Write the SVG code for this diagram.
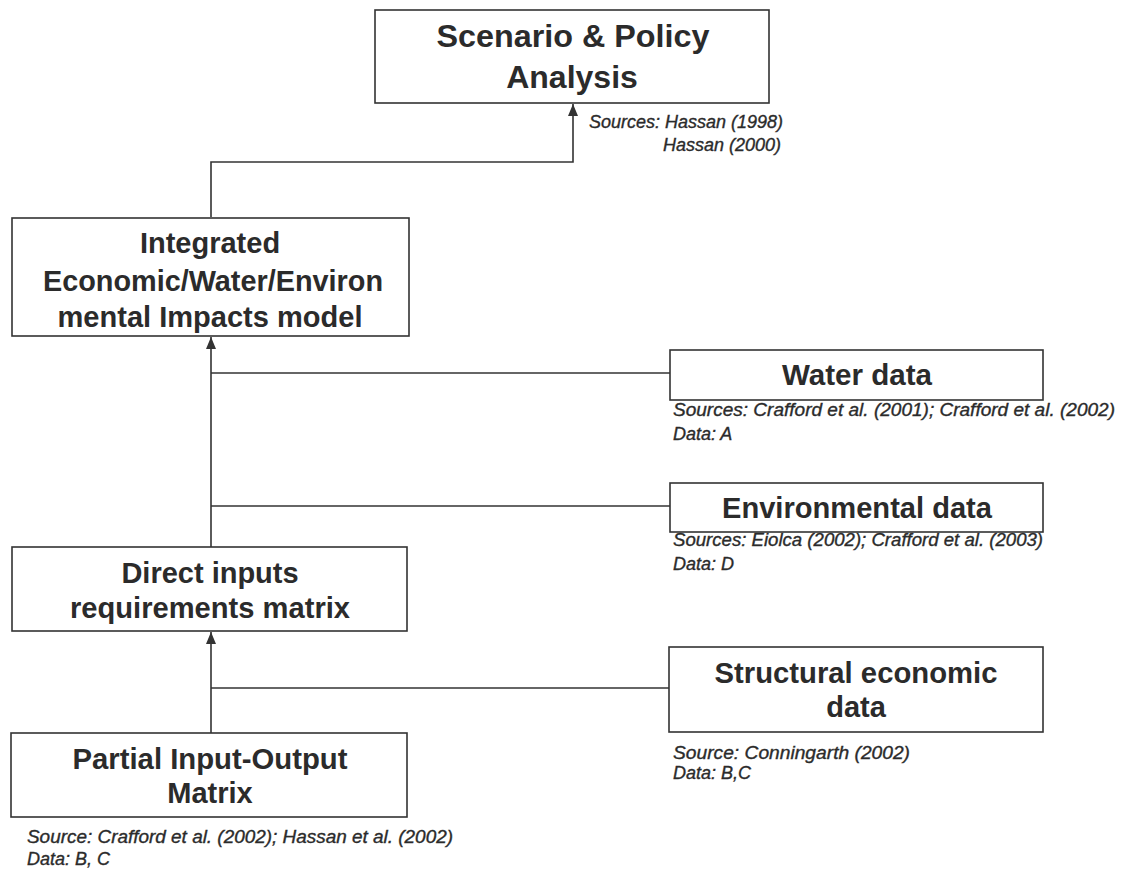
<svg xmlns="http://www.w3.org/2000/svg" width="1127" height="873" viewBox="0 0 1127 873">
<style>
.box{fill:#fff;stroke:#333;stroke-width:1.6}
.t{font-family:"Liberation Sans",Arial,sans-serif;font-weight:bold;font-size:29px;fill:#2b2b2b;text-anchor:middle}
.big{font-size:32px}
.s{font-family:"Liberation Sans",Arial,sans-serif;font-style:italic;font-size:18px;fill:#2b2b2b;stroke:#2b2b2b;stroke-width:0.35}
.c{fill:none;stroke:#333;stroke-width:1.6}
</style>
<defs>
<marker id="ah" viewBox="0 0 12 12" refX="12" refY="6" markerWidth="12" markerHeight="12" markerUnits="userSpaceOnUse" orient="auto">
<path d="M0,1 L12,6 L0,11 Z" fill="#333"/>
</marker>
</defs>
<rect width="1127" height="873" fill="#fff"/>
<g id="connectors">
<path class="c" d="M211,217 V162 H573 V104" marker-end="url(#ah)"/>
<path class="c" d="M211,547 V337" marker-end="url(#ah)"/>
<path class="c" d="M211,733 V632" marker-end="url(#ah)"/>
<path class="c" d="M211,373 H670"/>
<path class="c" d="M211,506 H670"/>
<path class="c" d="M211,688 H669"/>
</g>
<g id="scenario">
<rect class="box" x="375" y="10" width="394" height="93"/>
<text class="t big" x="573" y="47" textLength="273" lengthAdjust="spacingAndGlyphs">Scenario &amp; Policy</text>
<text class="t big" x="572" y="88">Analysis</text>
<text class="s" x="783" y="128" text-anchor="end">Sources: Hassan (1998)</text>
<text class="s" x="781" y="151" text-anchor="end">Hassan (2000)</text>
</g>
<g id="integrated">
<rect class="box" x="12" y="218" width="397" height="118"/>
<text class="t" x="210" y="253">Integrated</text>
<text class="t" x="213" y="291" textLength="340" lengthAdjust="spacingAndGlyphs">Economic/Water/Environ</text>
<text class="t" x="210" y="327" textLength="305" lengthAdjust="spacingAndGlyphs">mental Impacts model</text>
</g>
<g id="water">
<rect class="box" x="670" y="350" width="373" height="50"/>
<text class="t" x="857" y="385" textLength="150" lengthAdjust="spacingAndGlyphs">Water data</text>
<text class="s" x="673" y="416" textLength="442" lengthAdjust="spacingAndGlyphs">Sources: Crafford et al. (2001); Crafford et al. (2002)</text>
<text class="s" x="673" y="440">Data: A</text>
</g>
<g id="environmental">
<rect class="box" x="670" y="483" width="373" height="49"/>
<text class="t" x="857" y="518" textLength="270" lengthAdjust="spacingAndGlyphs">Environmental data</text>
<text class="s" x="673" y="546" textLength="370" lengthAdjust="spacingAndGlyphs">Sources: Eiolca (2002); Crafford et al. (2003)</text>
<text class="s" x="673" y="570">Data: D</text>
</g>
<g id="direct">
<rect class="box" x="12" y="547" width="395" height="84"/>
<text class="t" x="210" y="583">Direct inputs</text>
<text class="t" x="210" y="618" textLength="280" lengthAdjust="spacingAndGlyphs">requirements matrix</text>
</g>
<g id="structural">
<rect class="box" x="669" y="647" width="374" height="85"/>
<text class="t" x="856" y="683" textLength="283" lengthAdjust="spacingAndGlyphs">Structural economic</text>
<text class="t" x="856" y="717">data</text>
<text class="s" x="673" y="759" textLength="237" lengthAdjust="spacingAndGlyphs">Source: Conningarth (2002)</text>
<text class="s" x="673" y="779">Data: B,C</text>
</g>
<g id="partial">
<rect class="box" x="11" y="733" width="396" height="84"/>
<text class="t" x="210" y="769" textLength="275" lengthAdjust="spacingAndGlyphs">Partial Input-Output</text>
<text class="t" x="210" y="803">Matrix</text>
<text class="s" x="27" y="843" textLength="426" lengthAdjust="spacingAndGlyphs">Source: Crafford et al. (2002); Hassan et al. (2002)</text>
<text class="s" x="27" y="865">Data: B, C</text>
</g>
</svg>
